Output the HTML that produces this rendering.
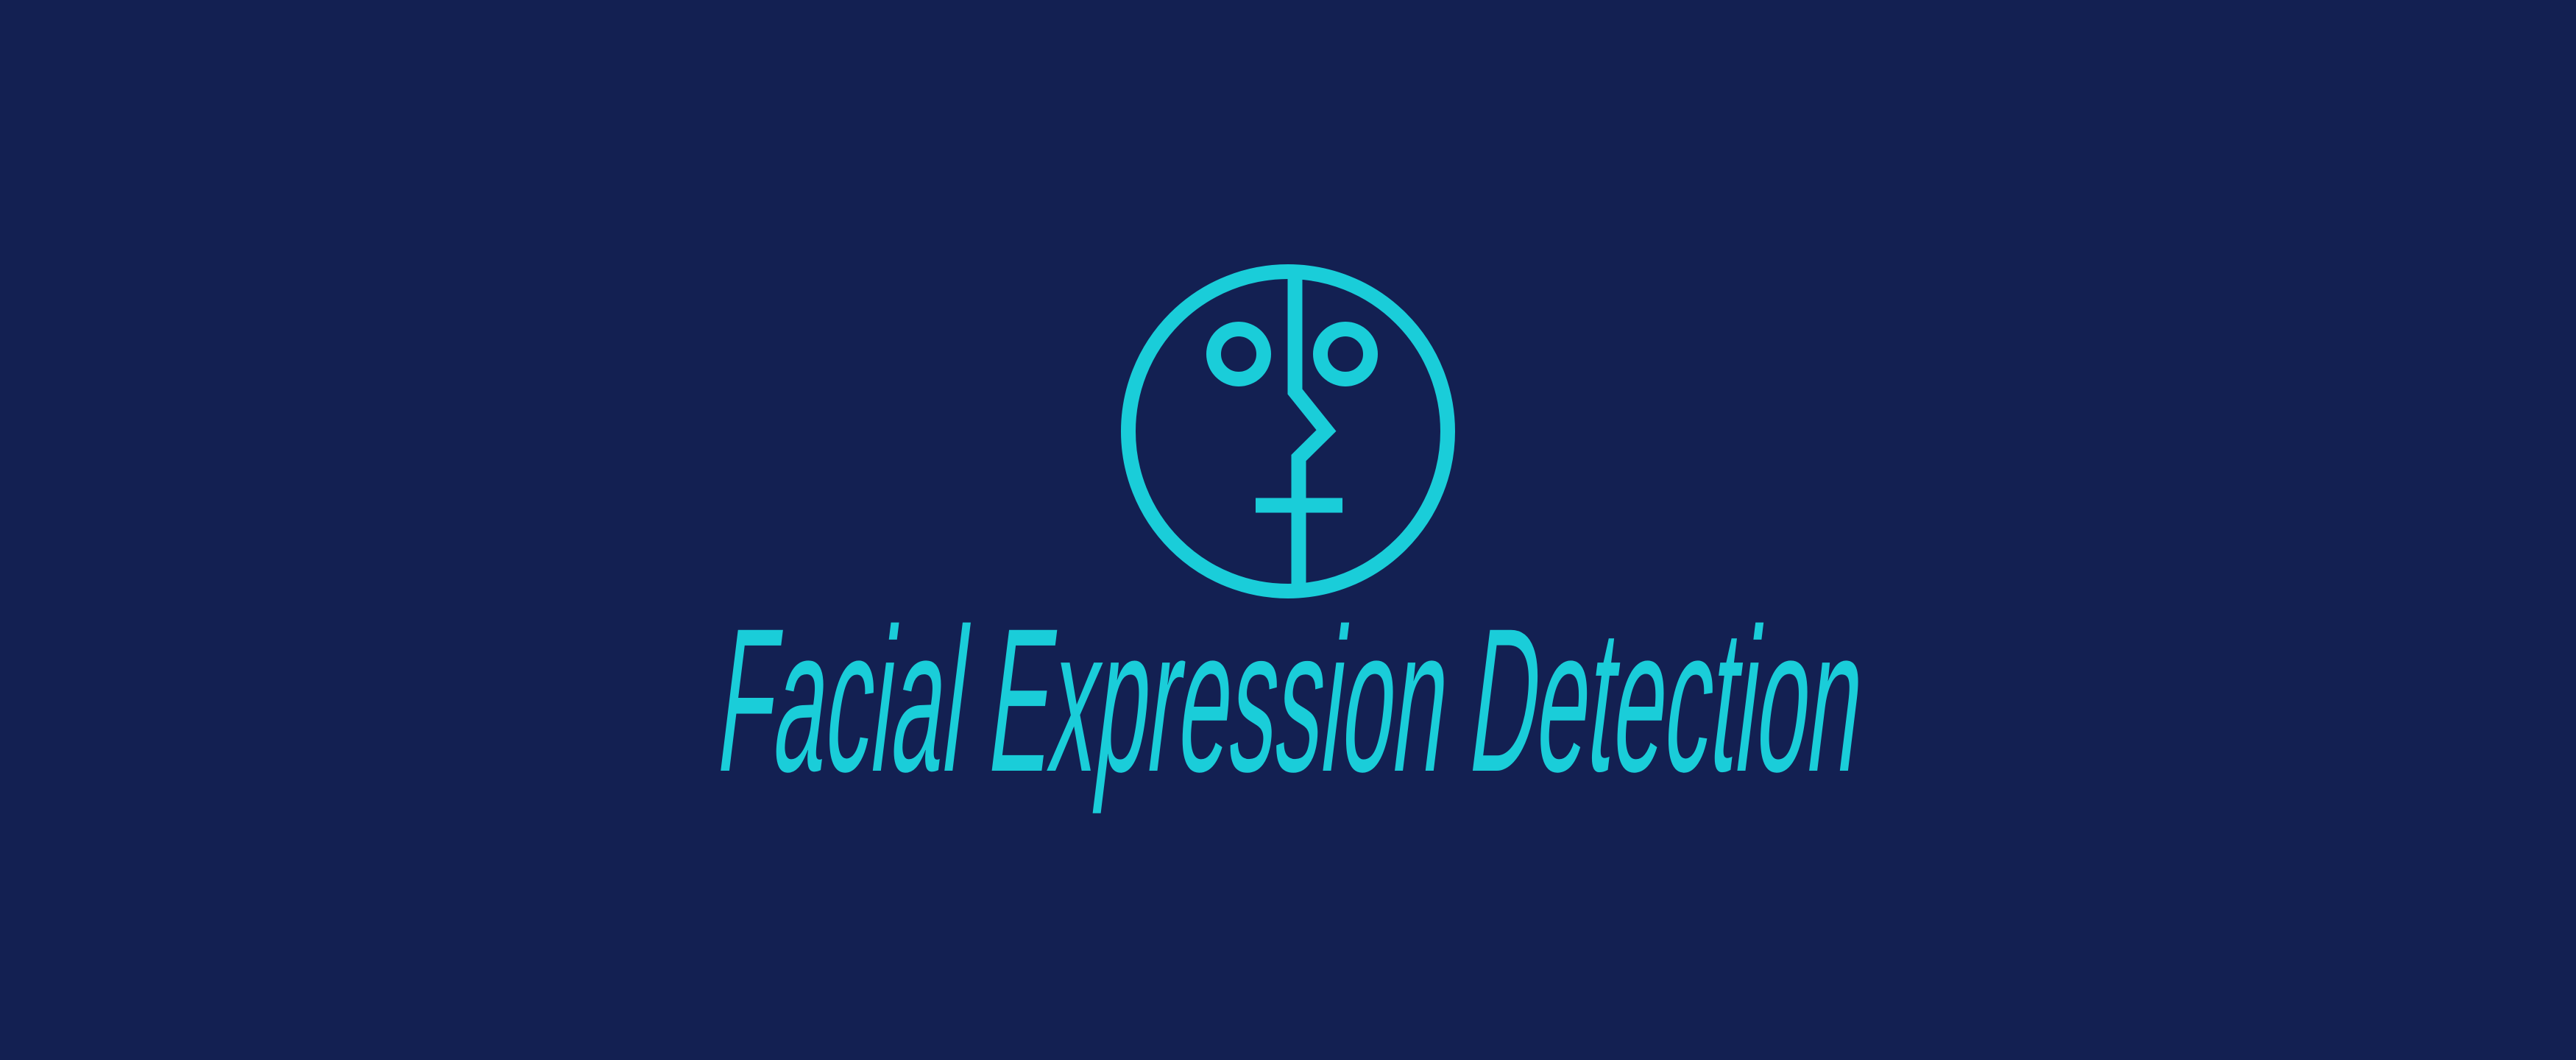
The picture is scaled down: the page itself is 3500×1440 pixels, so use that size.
<!DOCTYPE html>
<html><head><meta charset="utf-8"><style>
html,body{margin:0;padding:0;background:#132052;}
svg{display:block}
</style></head><body>
<svg width="3500" height="1440" viewBox="0 0 3500 1440" xmlns="http://www.w3.org/2000/svg">
<rect width="3500" height="1440" fill="#132052"/>
<g fill="none" stroke="#1acdd9" stroke-width="20">
<circle cx="1750" cy="586" r="217"/>
<circle cx="1683" cy="481" r="34"/>
<circle cx="1828" cy="481" r="34"/>
<polyline points="1759.5,362 1759.5,532 1802,585 1764.5,622 1764.5,800" stroke-linejoin="miter" stroke-miterlimit="10"/>
<line x1="1706" y1="686.5" x2="1824" y2="686.5"/>
</g>
<g transform="translate(969,1047) skewX(-7)">
<text x="0" y="0" font-family="'Liberation Sans Narrow','Liberation Sans',sans-serif" font-size="278" fill="#1acdd9" textLength="1550" lengthAdjust="spacingAndGlyphs">Facial Expression Detection</text>
</g>
</svg>
</body></html>
